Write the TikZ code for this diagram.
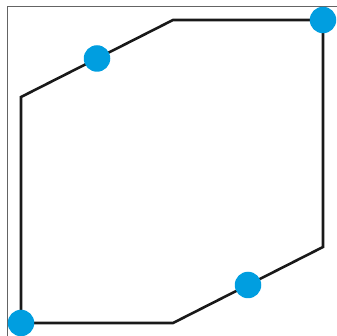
\documentclass[tikz,border=0pt]{standalone}
\usepackage{tikz}
\usetikzlibrary{positioning, calc}
\definecolor{dotblue}{RGB}{0,158,224}
\definecolor{framegray}{RGB}{100,100,100}
\tikzset{
    dotstyle/.style={circle, fill=dotblue, inner sep=0pt, minimum size=26.5pt},
    edge/.style={line width=2.6pt, color=black!90},
    framestyle/.style={line width=1pt, draw=framegray}
}

\begin{document}
\begin{tikzpicture}[x=1pt, y=-1pt]
        \useasboundingbox (0,0) rectangle (337,336);
        \draw[framestyle] (7,400) -- (7,7) -- (400,7);
        
        \coordinate (a) at (21,97);
        \coordinate (b) at (173,20);
        \coordinate (c) at (323,20);
        \coordinate (d) at (323,247);
        \coordinate (e) at (173,323);
        \coordinate (f) at (21,323);
        
        \draw[edge, line join=miter] (a) -- (b) -- (c) -- (d) -- (e) -- (f) -- cycle;
        
        \node[dotstyle] (n1) at ($(a)!0.5!(b)$) {};
        \node[dotstyle] (n2) at (c) {};
        \node[dotstyle] (n3) at ($(d)!0.5!(e)$) {};
        \node[dotstyle] (n4) at (f) {};
    \end{tikzpicture}
\end{document}
